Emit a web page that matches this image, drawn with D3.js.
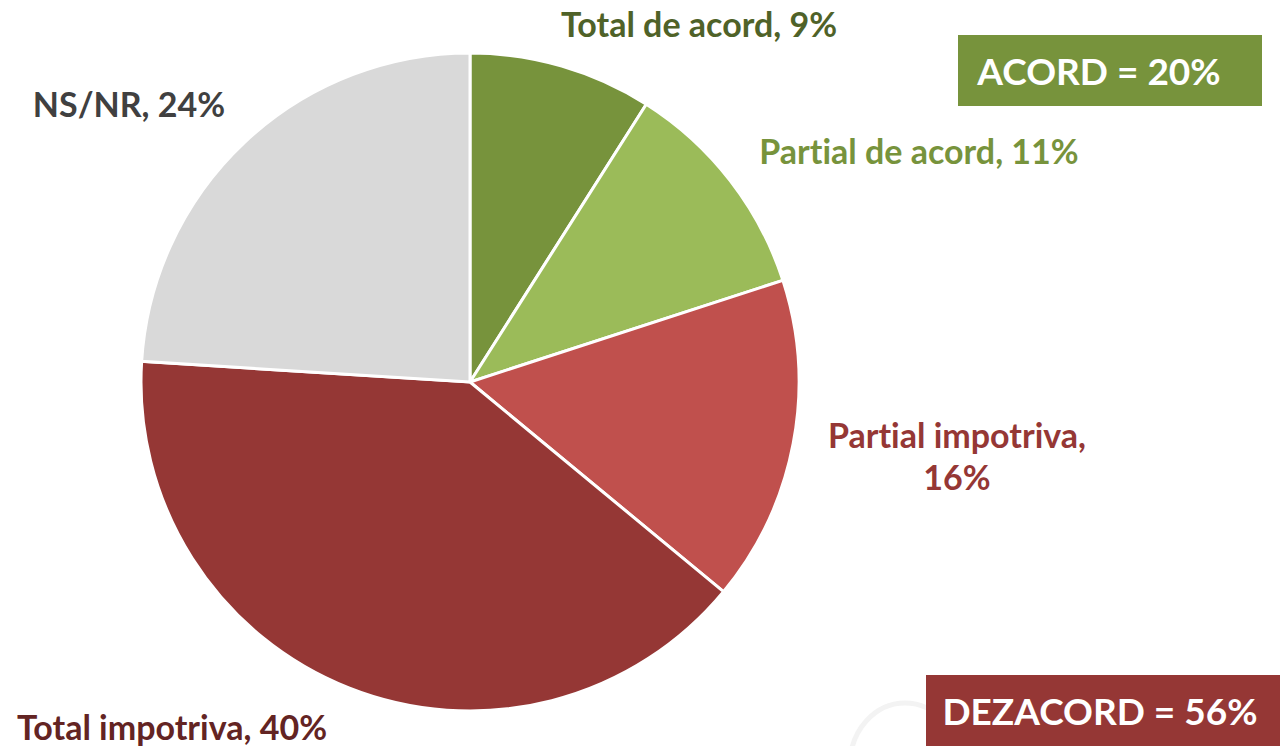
<!DOCTYPE html>
<html>
<head>
<meta charset="utf-8">
<script src="https://cdnjs.cloudflare.com/ajax/libs/d3/7.8.5/d3.min.js"></script>
<style>
  body { margin: 0; background: #fff; font-family: Lato, "Open Sans", sans-serif; }
  text { font-weight: bold; font-variant-ligatures: none; }
</style>
</head>
<body>
<script>
// slices, clockwise from 12 o'clock
var categories = ["Total de acord", "Partial de acord", "Partial impotriva", "Total impotriva", "NS/NR"];
var values = [9, 11, 16, 40, 24];
var sliceColors = ["#77933C", "#9BBB59", "#C0504D", "#953735", "#D9D9D9"];
var labelColors = ["#4F6228", "#77933C", "#953735", "#632423", "#404040"];
var labelLines = [
  ["Total de acord, 9%"],
  ["Partial de acord, 11%"],
  ["Partial impotriva,", "16%"],
  ["Total impotriva, 40%"],
  ["NS/NR, 24%"]
];
var labelPos = [[699, 37], [919, 164], [957, 448], [172, 740], [129, 117]];

var summaryText = ["ACORD = 20%", "DEZACORD = 56%"];

var W = 1280, H = 746;
var cx = 470, cy = 382, r = 329;

var svg = d3.select("body").append("svg")
  .attr("width", W).attr("height", H);

// faint decoration bottom right
svg.append("ellipse")
  .attr("cx", 905).attr("cy", 765)
  .attr("rx", 55).attr("ry", 62)
  .attr("fill", "none")
  .attr("stroke", "#f3f3f3")
  .attr("stroke-width", 5);

var pie = d3.pie().sort(null).value(function(d) { return d; });
var arc = d3.arc().innerRadius(0).outerRadius(r);

var g = svg.append("g").attr("transform", "translate(" + cx + "," + cy + ")");
g.selectAll("path")
  .data(pie(values))
  .enter().append("path")
  .attr("d", arc)
  .attr("fill", function(d, i) { return sliceColors[i]; })
  .attr("stroke", "#fff")
  .attr("stroke-width", 3);

// labels
var labels = svg.append("g");
labelLines.forEach(function(lines, i) {
  var t = labels.append("text")
    .attr("x", labelPos[i][0])
    .attr("y", labelPos[i][1])
    .attr("text-anchor", "middle")
    .attr("fill", labelColors[i])
    .style("font-size", "34px");
  lines.forEach(function(s, j) {
    t.append("tspan")
      .attr("x", labelPos[i][0])
      .attr("dy", j === 0 ? 0 : 42)
      .text(s);
  });
});

// summary boxes
var boxes = [
  {x: 958, y: 35, w: 304, h: 71, fill: "#77933C", tx: 1099, ty: 85},
  {x: 926, y: 675, w: 360, h: 75, fill: "#953735", tx: 1100, ty: 725}
];
boxes.forEach(function(b, i) {
  svg.append("rect")
    .attr("x", b.x).attr("y", b.y)
    .attr("width", b.w).attr("height", b.h)
    .attr("fill", b.fill);
  svg.append("text")
    .attr("x", b.tx).attr("y", b.ty)
    .attr("text-anchor", "middle")
    .attr("fill", "#fff")
    .style("font-size", "37px")
    .text(summaryText[i]);
});
</script>
</body>
</html>
